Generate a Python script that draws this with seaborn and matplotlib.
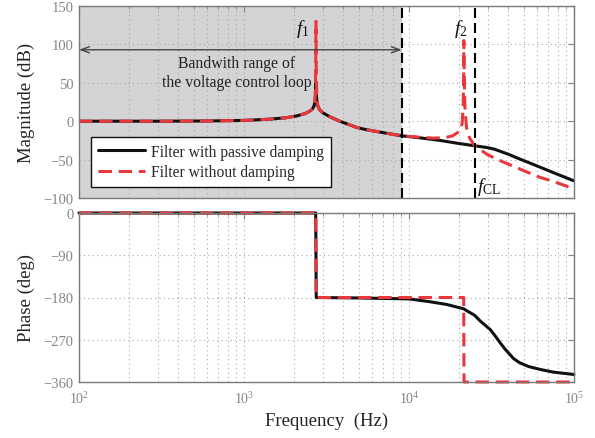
import numpy as np
import pandas as pd
import matplotlib
matplotlib.use("Agg")
import matplotlib.pyplot as plt
from matplotlib.ticker import LogLocator, NullFormatter, FixedLocator
import seaborn as sns

# ---------------- data ----------------
mag_f_black = [100, 300, 600, 1000, 1400, 1800, 2100, 2350, 2500, 2600, 2660, 2700,
               2720, 2730, 2740, 2760, 2800, 2870, 3000, 3300, 3800, 4800, 5500, 7000,
               9000, 12000, 15400, 20000, 25000, 28000, 30000, 33000, 40000, 46000,
               54000, 62000, 75000, 100000]
mag_black = [0, 0, 0.3, 1, 2.5, 4.5, 7, 10, 13, 16, 20, 28,
             40, 50, 38, 27, 20, 15, 11, 6, 0, -8, -11, -15,
             -19, -22, -25, -29, -32, -33.5, -34.5, -36.5, -43, -48.5,
             -54.5, -59.7, -67, -77.7]

mag_f_red = [100, 300, 600, 1000, 1400, 1800, 2100, 2350, 2500, 2600, 2660, 2700,
             2720, 2730, 2740, 2760, 2800, 2870, 3000, 3300, 3800, 4800, 5500, 7000,
             9000, 12000, 14000, 16500, 18400, 20300, 21000, 21300, 21450, 21500,
             21600, 21800, 22300, 23300, 25000, 30000, 35700, 49000, 62000, 75000,
             100000]
mag_red = [0, 0, 0.3, 1, 2.5, 4.5, 7, 10, 13, 16, 20, 30,
           70, 130, 70, 30, 20, 15, 11, 6, 0, -8, -11, -15,
           -19, -21, -22, -21.5, -19, -13, -3, 20, 60, 105,
           60, 20, -8, -22, -32, -43.7, -51.4, -64, -73, -78.5,
           -88]

ph_f_black = [100, 2720, 2740, 5000, 10000, 13400, 17000, 21400, 25000, 27000,
              31000, 33000, 35600, 38000, 40800, 43000, 46800, 53000, 62000,
              75000, 100000]
ph_black = [0, 0, -180, -181, -183, -189, -195, -204, -218, -230,
            -248, -260, -276, -289, -301, -310, -319, -327, -333,
            -339, -344]

ph_f_red = [100, 2720, 2740, 10000, 21450, 21550, 100000]
ph_red = [0, 0, -180, -180, -180, -360, -360]

series_names = ["Filter with passive damping", "Filter without damping"]
mag_ticks = [-100, -50, 0, 50, 100, 150]
ph_ticks = [0, -90, -180, -270, -360]
x_ticks = [1e2, 1e3, 1e4, 1e5]
x_tick_labels = [r"$10^{2}$", r"$10^{3}$", r"$10^{4}$", r"$10^{5}$"]

f_bw = 9030      # bandwidth edge
f_cl = 25100     # f_CL line
f1_label = (2280, 122)
f2_label = (20600, 122)
fcl_label = (30500, -84)

# ---------------- style ----------------
sns.set_style("white")
plt.rcParams.update({
    "font.family": ["Liberation Serif", "DejaVu Serif"],
    "mathtext.fontset": "custom",
    "mathtext.rm": "Liberation Serif",
    "mathtext.it": "Liberation Serif:italic",
    "mathtext.bf": "Liberation Serif:bold",
    "axes.edgecolor": "#7a7a7a",
    "axes.linewidth": 1.0,
})

BLACK = "#111111"
RED = "#e8383b"
TICKC = "#858585"
GRIDC = "#a8a8a8"

fig = plt.figure(figsize=(5.95, 4.39), dpi=100)
ax1 = fig.add_axes([79/595, 1-199/439, 495/595, 192/439])
ax2 = fig.add_axes([79/595, 1-383/439, 495/595, 169/439])

df_mag_b = pd.DataFrame({"f": mag_f_black, "v": mag_black})
df_mag_r = pd.DataFrame({"f": mag_f_red, "v": mag_red})
df_ph_b = pd.DataFrame({"f": ph_f_black, "v": ph_black})
df_ph_r = pd.DataFrame({"f": ph_f_red, "v": ph_red})

for ax in (ax1, ax2):
    ax.set_xscale("log")
    ax.set_xlim(1e2, 1e5)

# shading
ax1.axvspan(1e2, f_bw, color="#d4d4d6", zorder=0, lw=0)

sns.lineplot(data=df_mag_b, x="f", y="v", ax=ax1, color=BLACK, lw=2.2,
             estimator=None, sort=False, label=series_names[0], zorder=3)
sns.lineplot(data=df_mag_r, x="f", y="v", ax=ax1, color=RED, lw=2.2,
             linestyle=(0, (4.4, 2.2)), estimator=None, sort=False,
             label=series_names[1], zorder=4)
sns.lineplot(data=df_ph_b, x="f", y="v", ax=ax2, color=BLACK, lw=2.2,
             estimator=None, sort=False, zorder=3, clip_on=False)
sns.lineplot(data=df_ph_r, x="f", y="v", ax=ax2, color=RED, lw=2.2,
             linestyle=(0, (4.4, 2.2)), estimator=None, sort=False,
             zorder=4, clip_on=False)

for fv in (f_bw, f_cl):
    ax1.axvline(fv, color="k", lw=1.5, ls=(0, (4.8, 2.4)), zorder=5)

ax1.set_ylim(-100, 150)
ax1.set_yticks(mag_ticks)
ax2.set_ylim(-360, 0)
ax2.set_yticks(ph_ticks)

for ax in (ax1, ax2):
    ax.xaxis.set_major_locator(FixedLocator(x_ticks))
    ax.xaxis.set_minor_locator(LogLocator(base=10, subs=np.arange(2, 10)))
    ax.xaxis.set_minor_formatter(NullFormatter())
    ax.tick_params(which="both", direction="in", top=True, right=True,
                   colors=TICKC, labelsize=10.5, pad=4)
    ax.tick_params(which="major", length=4, width=0.8)
    ax.tick_params(which="minor", length=2.5, width=0.6)
    ax.grid(True, which="major", axis="both", ls=(0, (1, 3)), color=GRIDC, lw=0.8)
    ax.grid(True, which="minor", axis="x", ls=(0, (1, 3)), color=GRIDC, lw=0.8)
    ax.set_axisbelow(True)
    for s in ax.spines.values():
        s.set_color("#7a7a7a")
        s.set_zorder(6)

ax1.tick_params(labelbottom=False)
ax2.set_xticklabels(x_tick_labels)
ax2.tick_params(axis="x", labelsize=10, pad=6)

ax1.set_xlabel("")
ax1.set_ylabel("Magnitude (dB)", fontsize=13.5, color="#222222", labelpad=6)
ax2.set_ylabel("Phase (deg)", fontsize=13.5, color="#222222", labelpad=6)
ax2.set_xlabel("Frequency  (Hz)", fontsize=13.5, color="#222222", labelpad=4)

# annotations
ax1.annotate("", xy=(1.0e2, 93), xytext=(f_bw, 93),
             arrowprops=dict(arrowstyle="<->,head_length=0.6,head_width=0.22",
                             color="#444444", lw=1.0, shrinkA=0, shrinkB=0),
             zorder=6)
ax1.text(900, 64, "Bandwith range of\nthe voltage control loop", ha="center",
         va="center", fontsize=11.3, color="#222222", linespacing=1.25, zorder=6)
ax1.text(*f1_label, r"$f_1$", ha="center", va="center", fontsize=14, color="#111111")
ax1.text(*f2_label, r"$f_2$", ha="center", va="center", fontsize=14, color="#111111")
ax1.text(*fcl_label, r"$f_{\mathrm{CL}}$", ha="center", va="center", fontsize=14,
         color="#111111")

leg = ax1.legend(loc="lower left", bbox_to_anchor=(0.024, 0.056), fontsize=11.2,
                 frameon=True, fancybox=False, edgecolor="#111111",
                 framealpha=1.0, handlelength=3.0, handletextpad=0.4,
                 borderpad=0.45, labelspacing=0.3, borderaxespad=0)
leg.get_frame().set_linewidth(1.0)
leg.set_zorder(7)

fig.savefig("out.png", dpi=100)
